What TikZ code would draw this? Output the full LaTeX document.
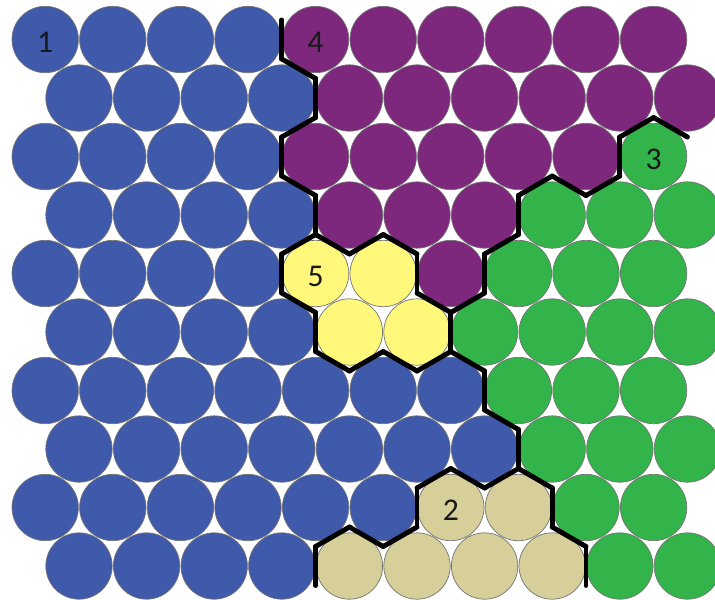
\documentclass[tikz,border=0pt]{standalone}
\usepackage{fontspec}
\usepackage{tikz}
\newfontfamily\numfont{Carlito}
\definecolor{c1}{RGB}{63,89,171}
\definecolor{c2}{RGB}{214,207,153}
\definecolor{c3}{RGB}{50,180,74}
\definecolor{c4}{RGB}{125,39,125}
\definecolor{c5}{RGB}{255,248,122}
\def\cells{1,1,1,1,4,4,4,4,4,4,%
1,1,1,1,4,4,4,4,4,4,%
1,1,1,1,4,4,4,4,4,3,%
1,1,1,1,4,4,4,3,3,3,%
1,1,1,1,5,5,4,3,3,3,%
1,1,1,1,5,5,3,3,3,3,%
1,1,1,1,1,1,1,3,3,3,%
1,1,1,1,1,1,1,3,3,3,%
1,1,1,1,1,1,2,2,3,3,%
1,1,1,1,2,2,2,2,3,3}
\begin{document}
\begin{tikzpicture}[x=0.02cm, y=-0.02cm,
  cell/.style={circle, draw=black!55, line width=0.4pt, minimum size=1.328cm, inner sep=0pt},
  num/.style={font=\numfont\fontsize{18}{18}\selectfont, text=black!90, yshift=-0.05cm},
  border/.style={line width=2.8pt, line cap=round}
]
  \useasboundingbox (0,0) rectangle (715,599);
  \clip (0,0) rectangle (715,599);
  \foreach \cl [count=\idx from 0] in \cells {
    \pgfmathtruncatemacro\row{\idx/10}
    \pgfmathtruncatemacro\col{mod(\idx,10)}
    \pgfmathtruncatemacro\sft{mod(\row,2)}
    \node[cell, fill=c\cl] (c-\row-\col) at (45.2+67.6*\col+33.8*\sft, 39.5+58.5*\row) {};
  }
  \foreach \cl [count=\idx from 0] in \cells {
    \pgfmathtruncatemacro\row{\idx/10}
    \pgfmathtruncatemacro\col{mod(\idx,10)}
    \pgfmathtruncatemacro\sft{mod(\row,2)}
    \ifnum\col<9
      \pgfmathtruncatemacro\nb{{\cells}[\idx+1]}
      \ifnum\nb=\cl\else
        \draw[border] ([shift={(33.8,-19.5)}]c-\row-\col.center) -- ++(0,39);
      \fi
    \fi
    \ifnum\row<9
      \pgfmathtruncatemacro\lft{\col-1+\sft}
      \ifnum\lft>-1
        \pgfmathtruncatemacro\nb{{\cells}[\idx+9+\sft]}
        \ifnum\nb=\cl\else
          \draw[border] ([shift={(0,39)}]c-\row-\col.center) -- ++(-33.8,-19.5);
        \fi
      \fi
      \pgfmathtruncatemacro\rgt{\col+\sft}
      \ifnum\rgt<10
        \pgfmathtruncatemacro\nb{{\cells}[\idx+10+\sft]}
        \ifnum\nb=\cl\else
          \draw[border] ([shift={(33.8,19.5)}]c-\row-\col.center) -- ++(-33.8,19.5);
        \fi
      \fi
    \fi
  }
  \node[num] (n1) at (c-0-0) {1};
  \node[num] (n2) at (c-8-6) {2};
  \node[num] (n3) at (c-2-9) {3};
  \node[num] (n4) at (c-0-4) {4};
  \node[num] (n5) at (c-4-4) {5};
\end{tikzpicture}
\end{document}
